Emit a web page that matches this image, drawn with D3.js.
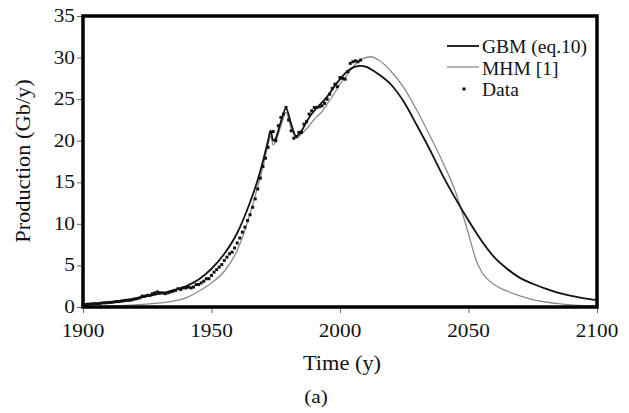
<!DOCTYPE html>
<html>
<head>
<meta charset="utf-8">
<script src="https://cdn.jsdelivr.net/npm/d3@7"></script>
<style>
  body { margin: 0; background: #fff; }
  text { font-family: "Liberation Serif", "Times New Roman", serif; fill: #111; }
</style>
</head>
<body>
<script>
// observed production, one value per year from 1900
const dataStart = 1900;
const dataValues = [
  0.3, 0.3, 0.35, 0.35, 0.4, 0.4, 0.4, 0.45, 0.5, 0.5,
  0.55, 0.55, 0.6, 0.65, 0.65, 0.7, 0.75, 0.8, 0.8, 0.85,
  0.95, 1.0, 1.1, 1.3, 1.3, 1.4, 1.4, 1.6, 1.7, 1.8,
  1.7, 1.7, 1.6, 1.7, 1.8, 1.9, 2.0, 2.2, 2.1, 2.3,
  2.3, 2.4, 2.3, 2.4, 2.7, 2.7, 2.9, 3.1, 3.4, 3.4,
  3.8, 4.2, 4.5, 4.8, 5.1, 5.6, 6.0, 6.4, 6.6, 7.1,
  7.7, 8.3, 9.0, 9.6, 10.4, 11.1, 12.0, 13.0, 14.2, 15.5,
  16.9, 17.9, 19.2, 21.0, 21.1, 20.0, 21.8, 22.8, 23.2, 24.0,
  22.5, 21.2, 20.3, 20.5, 21.0, 21.0, 22.0, 22.3, 23.2, 23.6,
  24.0, 24.0, 24.1, 24.2, 24.5, 25.0, 25.6, 26.3, 26.8, 26.5,
  27.6, 27.5, 27.4, 28.3, 29.3, 29.5, 29.6, 29.5, 29.7
];

// GBM (eq.10)
const gbmYears  = [1900, 1905, 1910, 1915, 1920, 1925, 1930, 1935, 1940, 1945, 1950, 1955, 1960, 1965, 1968, 1970, 1972, 1973, 1974, 1975, 1977, 1979, 1981, 1983, 1985, 1988, 1990, 1993, 1995, 1998, 2000, 2003, 2006, 2008, 2010, 2012, 2015, 2020, 2025, 2030, 2035, 2040, 2045, 2050, 2055, 2060, 2065, 2070, 2075, 2080, 2085, 2090, 2095, 2100];
const gbmValues = [0.25, 0.4, 0.55, 0.75, 1.0, 1.3, 1.6, 2.0, 2.5, 3.3, 4.6, 6.4, 8.9, 12.6, 15.3, 17.5, 20.0, 21.2, 20.0, 20.3, 22.3, 23.9, 22.0, 20.5, 21.2, 22.8, 23.6, 24.6, 25.3, 26.6, 27.4, 28.4, 28.9, 29.0, 28.9, 28.6, 28.0, 26.7, 24.6, 21.8, 18.9, 15.8, 13.0, 10.4, 8.0, 6.0, 4.6, 3.5, 2.8, 2.2, 1.7, 1.35, 1.05, 0.85];

// MHM [1]
const mhmYears  = [1900, 1910, 1920, 1930, 1935, 1940, 1945, 1950, 1955, 1960, 1965, 1968, 1970, 1972, 1973, 1974, 1975, 1977, 1979, 1981, 1983, 1985, 1988, 1990, 1993, 1995, 1998, 2000, 2003, 2006, 2009, 2012, 2015, 2020, 2025, 2030, 2035, 2040, 2045, 2047, 2050, 2053, 2055, 2060, 2065, 2070, 2075, 2080, 2085, 2090, 2095, 2100];
const mhmValues = [0.05, 0.1, 0.25, 0.5, 0.7, 1.1, 1.9, 2.9, 4.3, 6.8, 11.2, 14.5, 16.8, 19.5, 20.6, 19.5, 19.9, 21.8, 23.4, 21.5, 20.3, 20.8, 21.8, 22.6, 23.5, 24.4, 25.8, 26.8, 28.0, 29.2, 29.9, 30.1, 29.7, 28.3, 26.3, 23.6, 20.6, 17.4, 13.8, 11.9, 8.8, 5.6, 4.3, 2.7, 1.9, 1.35, 0.9, 0.6, 0.4, 0.25, 0.15, 0.1];

const xTicks = [1900, 1950, 2000, 2050, 2100];
const yTicks = [0, 5, 10, 15, 20, 25, 30, 35];

const W = 629, H = 413;
const svg = d3.select('body').append('svg').attr('width', W).attr('height', H);

const x = d3.scaleLinear().domain([1900, 2100]).range([83, 597]);
const y = d3.scaleLinear().domain([0, 35]).range([307, 16]);

// text slightly wider than plain Times, as in the picture
function label(px, py, str, size, anchor, rot) {
  const t = svg.append('text')
    .attr('transform', `translate(${px},${py}) rotate(${rot || 0}) scale(1.12,1)`)
    .attr('text-anchor', anchor)
    .style('font-size', size + 'px')
    .text(str);
  return t;
}

// tick marks
svg.append('g').attr('transform', 'translate(83,0)')
  .call(d3.axisLeft(y).tickValues(yTicks).tickSize(6).tickFormat(''))
  .call(g => g.select('.domain').remove())
  .call(g => g.selectAll('line').attr('stroke', '#666'));
svg.append('g').attr('transform', 'translate(0,307)')
  .call(d3.axisBottom(x).tickValues(xTicks).tickSize(6).tickFormat(''))
  .call(g => g.select('.domain').remove())
  .call(g => g.selectAll('line').attr('stroke', '#666'));

yTicks.forEach(v => label(75, y(v) + 6, v, 19, 'end'));
xTicks.forEach(v => label(x(v), 337, v, 19, 'middle'));

label(342, 370, 'Time (y)', 20, 'middle');
label(30, 161, 'Production (Gb/y)', 20, 'middle', -90);
label(316, 403, '(a)', 19, 'middle');

const line = d3.line().x(d => x(d[0])).y(d => y(d[1])).curve(d3.curveMonotoneX);

svg.append('path')
  .datum(mhmYears.map((yr, i) => [yr, mhmValues[i]]))
  .attr('d', line).attr('fill', 'none')
  .attr('stroke', '#8a8a8a').attr('stroke-width', 1.3);

svg.append('path')
  .datum(gbmYears.map((yr, i) => [yr, gbmValues[i]]))
  .attr('d', line).attr('fill', 'none')
  .attr('stroke', '#111').attr('stroke-width', 1.8);

svg.append('g').selectAll('rect')
  .data(dataValues.map((v, i) => [dataStart + i, v]))
  .enter().append('rect')
  .attr('x', d => x(d[0]) - 1.5)
  .attr('y', d => y(d[1]) - 1.5)
  .attr('width', 3).attr('height', 3)
  .attr('fill', '#111');

// frame
svg.append('rect')
  .attr('x', 83).attr('y', 16)
  .attr('width', 597 - 83).attr('height', 307 - 16)
  .attr('fill', 'none').attr('stroke', '#000').attr('stroke-width', 3.5);

// legend
const leg = svg.append('g');
leg.append('line').attr('x1', 447).attr('x2', 479).attr('y1', 46).attr('y2', 46)
  .attr('stroke', '#111').attr('stroke-width', 1.8);
leg.append('line').attr('x1', 447).attr('x2', 479).attr('y1', 67).attr('y2', 67)
  .attr('stroke', '#8a8a8a').attr('stroke-width', 1.3);
leg.append('rect').attr('x', 462.5).attr('y', 87.5).attr('width', 3).attr('height', 3).attr('fill', '#111');
['GBM (eq.10)', 'MHM [1]', 'Data'].forEach((s, i) => {
  leg.append('text').attr('x', 482).attr('y', 53 + i * 21.5)
    .style('font-size', '19.5px').text(s);
});
</script>
</body>
</html>
